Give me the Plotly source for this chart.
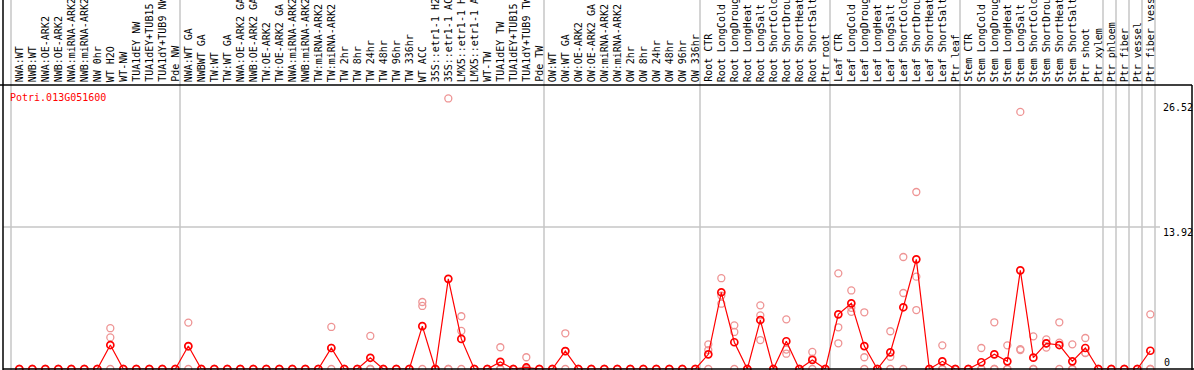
import plotly.graph_objects as go

gene_id = "Potri.013G051600"

categories = [
    # wood / NW
    "NWA:WT", "NWB:WT", "NWA:OE-ARK2", "NWB:OE-ARK2", "NWA:miRNA-ARK2", "NWB:miRNA-ARK2",
    "NW 0hr", "WT H2O", "WT-NW", "TUA1dEY NW", "TUA1dEY+TUB15 NW", "TUA1dY+TUB9 NW", "Pde NW",
    # TW
    "NWA:WT GA", "NWBWT GA", "TW:WT", "TW:WT GA", "NWA:OE-ARK2 GA", "NWB:OE-ARK2 GA",
    "TW:OE-ARK2", "TW:OE-ARK2 GA", "NWA:miRNA-ARK2 GA", "NWB:miRNA-ARK2 GA", "TW:miRNA-ARK2",
    "TW:miRNA-ARK2 GA", "TW 2hr", "TW 8hr", "TW 24hr", "TW 48hr", "TW 96hr", "TW 336hr",
    "WT ACC", "35S::etr1-1 H2O", "35S::etr1-1 ACC", "LMX5::etr1-1 H2O", "LMX5::etr1-1 ACC",
    "WT-TW", "TUA1dEY TW", "TUA1dEY+TUB15 TW", "TUA1dY+TUB9 TW", "Pde TW",
    # OW
    "OW:WT", "OW:WT GA", "OW:OE-ARK2", "OW:OE-ARK2 GA", "OW:miRNA-ARK2", "OW:miRNA-ARK2 GA",
    "OW 2hr", "OW 8hr", "OW 24hr", "OW 48hr", "OW 96hr", "OW 336hr",
    # Root
    "Root CTR", "Root LongCold", "Root LongDrought", "Root LongHeat", "Root LongSalt",
    "Root ShortCold", "Root ShortDrought", "Root ShortHeat", "Root ShortSalt", "Ptr root",
    # Leaf
    "Leaf CTR", "Leaf LongCold", "Leaf LongDrought", "Leaf LongHeat", "Leaf LongSalt",
    "Leaf ShortCold", "Leaf ShortDrought", "Leaf ShortHeat", "Leaf ShortSalt", "Ptr leaf",
    # Stem
    "Stem CTR", "Stem LongCold", "Stem LongDrought", "Stem LongHeat", "Stem LongSalt",
    "Stem ShortCold", "Stem ShortDrought", "Stem ShortHeat", "Stem ShortSalt", "Ptr shoot",
    "Ptr xylem",
    # single tissues
    "Ptr phloem", "Ptr fiber", "Ptr vessel", "Ptr fiber vessel",
]

mean_values = [
    0, 0, 0, 0, 0, 0, 0, 2.35, 0, 0, 0, 0, 0,
    2.25, 0, 0, 0, 0, 0, 0, 0, 0, 0, 0, 2.06, 0, 0, 1.10, 0, 0, 0,
    4.20, 0, 8.84, 2.95, 0, 0, 0.70, 0, 0.15, 0,
    0, 1.76, 0, 0, 0, 0, 0, 0, 0, 0, 0, 0,
    1.44, 7.52, 2.62, 0, 4.80, 0, 2.72, 0, 0.88, 0,
    5.36, 6.44, 2.25, 0, 1.63, 6.05, 10.75, 0, 0.75, 0,
    0, 0.66, 1.44, 0.75, 9.67, 1.11, 2.52, 2.35, 0.75, 2.06, 0,
    0, 0, 0, 1.79,
]

replicate_values = [
    [0, 0, 0], [0, 0, 0], [0, 0, 0], [0, 0, 0], [0, 0, 0], [0, 0, 0], [0, 0, 0],
    [4.0, 3.1, 0], [0, 0, 0], [0, 0, 0], [0, 0, 0], [0, 0, 0], [0, 0, 0],
    [4.55, 2.2, 0], [0, 0, 0], [0, 0, 0], [0, 0, 0], [0, 0, 0], [0, 0, 0], [0, 0, 0],
    [0, 0, 0], [0, 0, 0], [0, 0, 0], [0, 0, 0], [4.12, 2.06, 0], [0, 0, 0], [0, 0, 0],
    [3.24, 0, 0], [0, 0, 0], [0, 0, 0], [0, 0, 0],
    [6.57, 6.18, 0], [0, 0, 0], [26.52, 0, 0], [5.17, 3.73, 0], [0, 0, 0], [0, 0, 0],
    [2.13, 0, 0], [0, 0, 0], [1.15, 0, 0], [0, 0, 0],
    [0, 0, 0], [3.5, 1.76, 0], [0, 0, 0], [0, 0, 0], [0, 0, 0], [0, 0, 0], [0, 0, 0],
    [0, 0, 0], [0, 0, 0], [0, 0, 0], [0, 0, 0], [0, 0, 0],
    [2.42, 1.86, 0], [8.9, 7.2, 6.4], [4.28, 3.63, 0], [0, 0, 0], [6.24, 5.26, 2.84],
    [0, 0, 0], [4.87, 1.9, 1.5], [0, 0, 0], [1.67, 1.0, 0], [0, 0, 0],
    [9.38, 4.09, 2.52], [7.7, 6.0, 5.6], [5.56, 1.15, 0], [0, 0, 0], [3.7, 1.2, 0],
    [10.98, 7.45, 0], [17.35, 9.05, 5.78], [0, 0, 0], [2.32, 0, 0], [0, 0, 0],
    [0, 0, 0], [2.06, 0, 0], [4.58, 0, 0], [2.32, 0, 0], [25.2, 1.95, 1.86],
    [3.2, 0, 0], [2.9, 2.5, 2.1], [4.58, 2.58, 0], [2.42, 0, 0], [3.04, 1.6, 1.55],
    [0, 0, 0],
    [0, 0, 0], [0, 0, 0], [0, 0, 0], [5.36, 0, 0],
]

group_boundaries = [0, 13, 41, 53, 63, 73, 84, 85, 86, 87, 88]
y_max_label = "26.52"
y_mid_value = 13.92
y_mid_label = "13.92"
y_zero_label = "0"

# ---------------- layout geometry ----------------
N = len(categories)
W, H = 1194, 370
ML, MR, MT, MB = 11, 39, 85, 1
PW = W - ML - MR
PH = H - MT - MB
YTOP = 2 * y_mid_value
OFF = 0.64
FONT = "DejaVu Sans Mono"


def px_x(p):
    return (p - ML) / PW


def px_y(p):
    return (H - MB - p) / PH


xs = [i + OFF for i in range(N)]

rep_x, rep_y = [], []
for i, reps in enumerate(replicate_values):
    for v in reps:
        rep_x.append(xs[i])
        rep_y.append(v)

fig = go.Figure()
fig.add_trace(go.Scatter(
    x=rep_x, y=rep_y, mode="markers", cliponaxis=False, hoverinfo="skip",
    marker=dict(symbol="circle-open", size=7, color="#ee9494", line=dict(width=1.3)),
))
fig.add_trace(go.Scatter(
    x=xs, y=mean_values, mode="lines+markers", cliponaxis=False,
    line=dict(color="#ff0000", width=1.2),
    marker=dict(symbol="circle-open", size=7, color="#ff0000", line=dict(width=1.7)),
))

shapes = []
for b in group_boundaries:
    shapes.append(dict(type="line", xref="paper", yref="paper",
                       x0=b / N, x1=b / N, y0=px_y(H), y1=px_y(0),
                       line=dict(color="#c6c6c6", width=1.5), layer="below"))
shapes.append(dict(type="line", xref="paper", yref="paper",
                   x0=px_x(3), x1=px_x(1160), y0=y_mid_value / YTOP, y1=y_mid_value / YTOP,
                   line=dict(color="#c6c6c6", width=1.5), layer="below"))
# black frame
shapes.append(dict(type="line", xref="paper", yref="paper",
                   x0=px_x(3), x1=px_x(3), y0=px_y(H), y1=px_y(0),
                   line=dict(color="black", width=1.5)))
shapes.append(dict(type="line", xref="paper", yref="paper",
                   x0=px_x(0), x1=px_x(1192), y0=px_y(MT), y1=px_y(MT),
                   line=dict(color="black", width=1.5)))
shapes.append(dict(type="line", xref="paper", yref="paper",
                   x0=px_x(1192), x1=px_x(1192), y0=px_y(MT), y1=px_y(H),
                   line=dict(color="black", width=1.5)))
shapes.append(dict(type="line", xref="paper", yref="paper",
                   x0=px_x(3), x1=px_x(W), y0=px_y(369), y1=px_y(369),
                   line=dict(color="black", width=1.5)))

annotations = []
for i, c in enumerate(categories):
    annotations.append(dict(
        x=xs[i], y=px_y(83), xref="x", yref="paper", text=c, textangle=-90,
        showarrow=False, xanchor="center", yanchor="bottom", borderpad=0,
        font=dict(family=FONT, size=10.0, color="black"),
    ))
annotations.append(dict(x=px_x(9), y=px_y(97), xref="paper", yref="paper", text=gene_id,
                        showarrow=False, xanchor="left", yanchor="middle", borderpad=0,
                        font=dict(family=FONT, size=10, color="#ff0000")))
for lab, yc, x0 in [(y_max_label, 107, 1162), (y_mid_label, 232, 1162), (y_zero_label, 362, 1163)]:
    annotations.append(dict(x=px_x(x0), y=px_y(yc), xref="paper", yref="paper", text=lab,
                            showarrow=False, xanchor="left", yanchor="middle", borderpad=0,
                            font=dict(family=FONT, size=10, color="black")))

fig.update_layout(
    width=W, height=H, margin=dict(l=ML, r=MR, t=MT, b=MB, pad=0),
    paper_bgcolor="white", plot_bgcolor="white", showlegend=False,
    xaxis=dict(range=[0, N], visible=False, showgrid=False, zeroline=False),
    yaxis=dict(range=[0, YTOP], visible=False, showgrid=False, zeroline=False),
    shapes=shapes, annotations=annotations,
)

fig.write_html(
    "out.html",
    config={"displayModeBar": False},
    post_script="document.body.style.margin='0';document.body.style.overflow='hidden';",
)
